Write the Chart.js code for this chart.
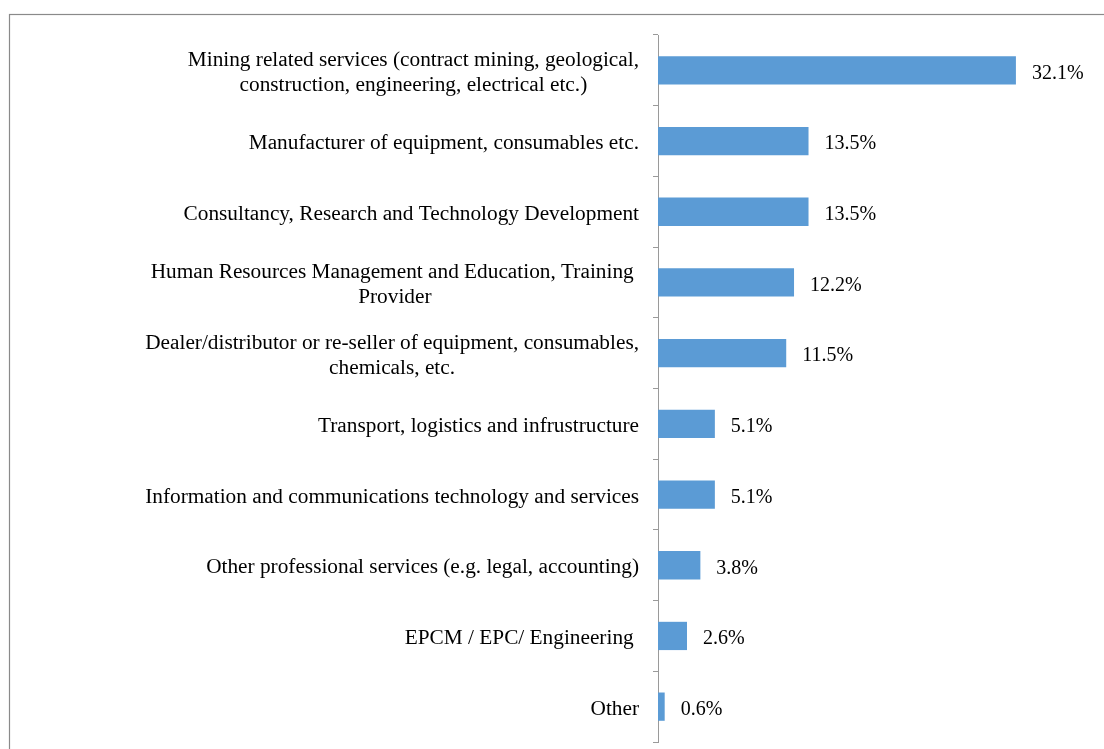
<!DOCTYPE html>
<html>
<head>
<meta charset="utf-8">
<title>Business categories</title>
<script src="https://cdn.jsdelivr.net/npm/chart.js@4/dist/chart.umd.min.js"></script>
<style>
  html, body { margin: 0; padding: 0; background: #ffffff; }
  canvas { display: block; }
</style>
</head>
<body>
<canvas id="chart" width="1104" height="749"></canvas>
<script>
// Category labels (multi-line entries are arrays of lines)
const categories = [
  ["Mining related services (contract mining, geological,", "construction, engineering, electrical etc.)"],
  "Manufacturer of equipment, consumables etc.",
  "Consultancy, Research and Technology Development",
  ["Human Resources Management and Education, Training ", "Provider"],
  ["Dealer/distributor or re-seller of equipment, consumables,", "chemicals, etc."],
  "Transport, logistics and infrustructure",
  "Information and communications technology and services",
  "Other professional services (e.g. legal, accounting)",
  "EPCM / EPC/ Engineering ",
  "Other"
];

// Share of respondents, percent
const shares = [32.1, 13.5, 13.5, 12.2, 11.5, 5.1, 5.1, 3.8, 2.6, 0.6];

const SERIF = '"Liberation Serif", "Times New Roman", serif';

// Outer frame around the chart
const framePlugin = {
  id: 'frame',
  beforeDraw(chart) {
    const ctx = chart.ctx;
    ctx.save();
    ctx.fillStyle = '#ffffff';
    ctx.fillRect(0, 0, chart.width, chart.height);
    ctx.strokeStyle = '#8a8a8a';
    ctx.lineWidth = 1.2;
    ctx.strokeRect(9.5, 14.5, chart.width + 20, chart.height + 20);
    ctx.restore();
  }
};

// Category labels: block right-aligned, lines centred within the block
const categoryLabelPlugin = {
  id: 'categoryLabels',
  afterDraw(chart) {
    const ctx = chart.ctx;
    const ys = chart.scales.y;
    const right = 639;
    const lineHeight = 25;
    ctx.save();
    ctx.font = '21.3px ' + SERIF;
    ctx.fillStyle = '#000000';
    ctx.textAlign = 'center';
    ctx.textBaseline = 'middle';
    chart.data.labels.forEach((lab, i) => {
      const lines = Array.isArray(lab) ? lab : [lab];
      const widest = Math.max(...lines.map(l => ctx.measureText(l).width));
      const cx = right - widest / 2;
      const cy = ys.getPixelForValue(i);
      lines.forEach((line, k) => {
        ctx.fillText(line, cx, cy + (k - (lines.length - 1) / 2) * lineHeight + 2.5);
      });
    });
    ctx.restore();
  }
};

// Value labels to the right of each bar
const valueLabelPlugin = {
  id: 'valueLabels',
  afterDatasetsDraw(chart) {
    const ctx = chart.ctx;
    const meta = chart.getDatasetMeta(0);
    const values = chart.data.datasets[0].data;
    ctx.save();
    ctx.font = '20px ' + SERIF;
    ctx.fillStyle = '#000000';
    ctx.textAlign = 'left';
    ctx.textBaseline = 'middle';
    meta.data.forEach((bar, i) => {
      ctx.fillText(values[i].toFixed(1) + '%', bar.x + 16, bar.y + 3);
    });
    ctx.restore();
  }
};

new Chart(document.getElementById('chart'), {
  type: 'bar',
  data: {
    labels: categories,
    datasets: [{
      data: shares,
      backgroundColor: '#5B9BD5',
      borderWidth: 0,
      barPercentage: 0.4,
      categoryPercentage: 1.0
    }]
  },
  options: {
    indexAxis: 'y',
    responsive: false,
    animation: false,
    devicePixelRatio: 1,
    layout: { padding: { top: 35, bottom: 7, left: 0, right: 0 } },
    plugins: {
      legend: { display: false },
      tooltip: { enabled: false }
    },
    scales: {
      x: {
        display: false,
        min: 0,
        max: 40
      },
      y: {
        type: 'category',
        offset: true,
        ticks: { display: false },
        grid: {
          display: true,
          offset: true,
          drawOnChartArea: false,
          drawTicks: true,
          tickLength: 5,
          color: '#9a9a9a',
          lineWidth: 1
        },
        border: { display: true, color: '#9a9a9a', width: 1 },
        afterFit(scale) { scale.width = 658; }
      }
    }
  },
  plugins: [framePlugin, categoryLabelPlugin, valueLabelPlugin]
});
</script>
</body>
</html>
